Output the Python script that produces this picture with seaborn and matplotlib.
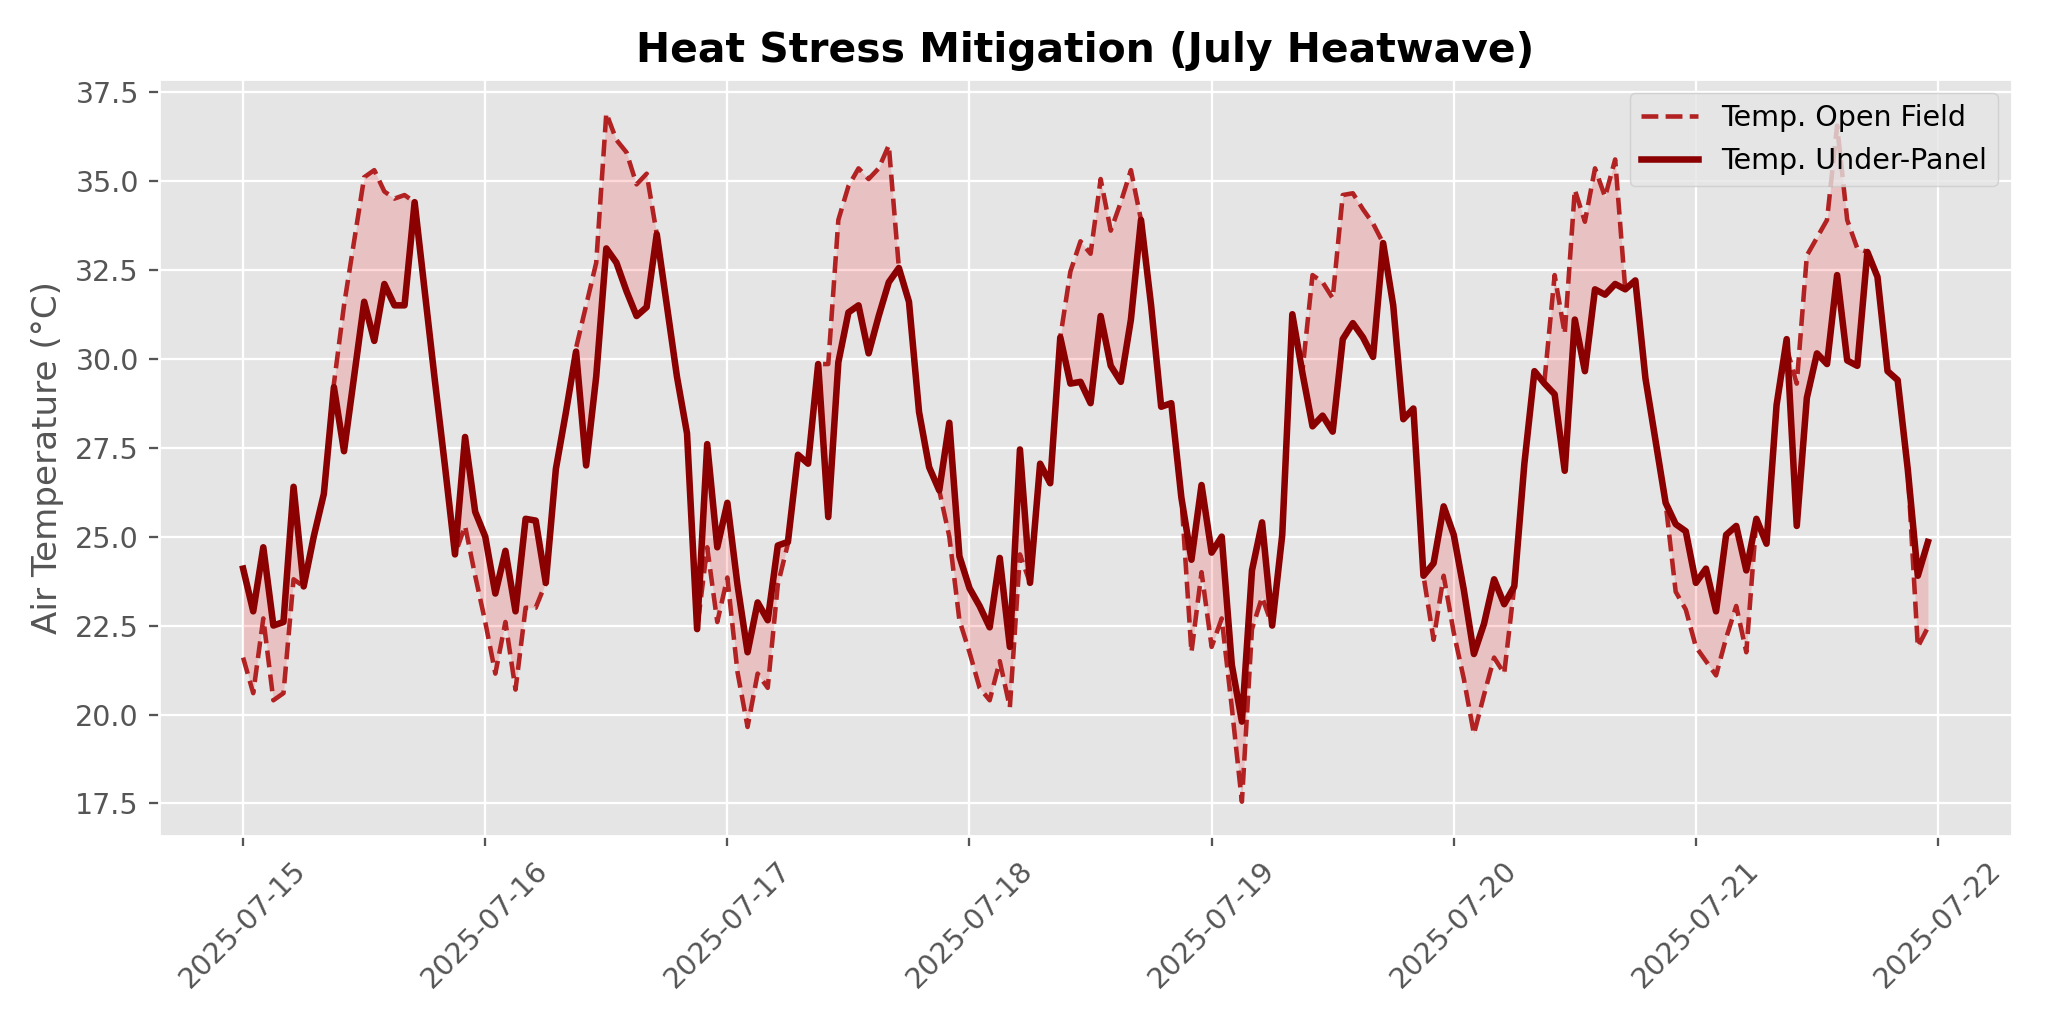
import matplotlib
matplotlib.use("Agg")
import matplotlib.pyplot as plt
import matplotlib.dates as mdates
import numpy as np
import pandas as pd
import seaborn as sns

# Hourly air temperature, 2025-07-15 00:00 .. 2025-07-21 23:00 (one row per day)
start_date = "2025-07-15"
n_hours = 168

temp_open_field = [
    21.6, 20.6, 22.7, 20.4, 20.6, 23.8, 23.6, 25.0, 26.2, 29.3, 31.5, 33.3,
    35.1, 35.3, 34.7, 34.5, 34.6, 34.4, 31.9, 29.4, 27.0, 24.5, 25.3, 23.9,
    22.6, 21.15, 22.6, 20.7, 23.0, 23.0, 23.7, 26.9, 28.5, 30.3, 31.5, 32.7,
    36.9, 36.15, 35.8, 34.9, 35.2, 33.5, 31.5, 29.5, 27.9, 22.4, 24.7, 22.6,
    23.85, 21.2, 19.65, 21.15, 20.75, 23.65, 24.8, 27.3, 27.05, 29.85, 29.85, 33.9,
    34.85, 35.35, 35.05, 35.35, 36.0, 32.55, 31.6, 28.5, 26.95, 26.3, 25.0, 22.65,
    21.75, 20.75, 20.4, 21.5, 20.2, 24.5, 23.7, 27.05, 26.5, 30.6, 32.45, 33.3,
    32.95, 35.05, 33.6, 34.4, 35.3, 33.9, 31.5, 28.65, 28.75, 26.1, 21.75, 24.0,
    21.9, 22.7, 20.2, 17.55, 22.4, 23.3, 22.5, 25.05, 31.25, 29.65, 32.35, 32.15,
    31.7, 34.6, 34.65, 34.2, 33.8, 33.25, 31.5, 28.3, 28.6, 23.9, 22.1, 23.9,
    22.3, 21.0, 19.45, 20.55, 21.6, 21.15, 23.6, 27.05, 29.65, 29.4, 32.35, 30.7,
    34.75, 33.85, 35.35, 34.55, 35.6, 31.95, 32.2, 29.45, 27.7, 25.95, 23.45, 22.95,
    21.9, 21.5, 21.1, 22.15, 23.05, 21.75, 25.5, 24.8, 28.7, 30.3, 29.3, 32.9,
    33.4, 33.9, 36.55, 33.9, 33.1, 33.0, 32.3, 29.65, 29.4, 26.9, 21.9, 22.45,
]

temp_under_panel = [
    24.1, 22.9, 24.7, 22.5, 22.6, 26.4, 23.6, 25.0, 26.2, 29.2, 27.4, 29.5,
    31.6, 30.5, 32.1, 31.5, 31.5, 34.4, 31.9, 29.4, 27.0, 24.5, 27.8, 25.7,
    25.0, 23.4, 24.6, 22.9, 25.5, 25.45, 23.7, 26.9, 28.5, 30.2, 27.0, 29.5,
    33.1, 32.7, 31.9, 31.2, 31.45, 33.5, 31.5, 29.5, 27.9, 22.4, 27.6, 24.7,
    25.95, 23.65, 21.75, 23.15, 22.65, 24.75, 24.85, 27.3, 27.05, 29.85, 25.55, 29.9,
    31.3, 31.5, 30.15, 31.2, 32.15, 32.55, 31.6, 28.5, 26.95, 26.3, 28.2, 24.45,
    23.55, 23.05, 22.45, 24.4, 21.9, 27.45, 23.7, 27.05, 26.5, 30.6, 29.3, 29.35,
    28.75, 31.2, 29.8, 29.35, 31.1, 33.9, 31.5, 28.65, 28.75, 26.1, 24.35, 26.45,
    24.55, 25.0, 21.4, 19.8, 24.05, 25.4, 22.5, 25.05, 31.25, 29.6, 28.1, 28.4,
    27.95, 30.55, 31.0, 30.6, 30.05, 33.25, 31.5, 28.3, 28.6, 23.9, 24.25, 25.85,
    25.05, 23.5, 21.7, 22.55, 23.8, 23.1, 23.6, 27.05, 29.65, 29.3, 29.0, 26.85,
    31.1, 29.65, 31.95, 31.8, 32.1, 31.95, 32.2, 29.45, 27.7, 25.95, 25.35, 25.15,
    23.7, 24.1, 22.9, 25.05, 25.3, 24.05, 25.5, 24.8, 28.7, 30.55, 25.3, 28.9,
    30.15, 29.85, 32.35, 29.95, 29.8, 33.0, 32.3, 29.65, 29.4, 26.9, 23.9, 24.85,
]

df = pd.DataFrame({
    "time": pd.date_range(start_date, periods=n_hours, freq="h"),
    "open": temp_open_field,
    "under": temp_under_panel,
})

plt.style.use("ggplot")
fig, ax = plt.subplots(figsize=(10, 5), dpi=204.8)

# open field first so the under-panel line sits on top
sns.lineplot(data=df, x="time", y="open", ax=ax, color="firebrick",
             linestyle="--", linewidth=1.6, label="Temp. Open Field")
sns.lineplot(data=df, x="time", y="under", ax=ax, color="darkred",
             linewidth=2.3, label="Temp. Under-Panel")
ax.fill_between(df["time"], df["open"], df["under"], color="red",
                alpha=0.15, linewidth=0)

ax.xaxis.set_major_locator(mdates.DayLocator())
ax.xaxis.set_major_formatter(mdates.DateFormatter("%Y-%m-%d"))
ax.tick_params(axis="x", rotation=45)

ax.set_title("Heat Stress Mitigation (July Heatwave)", fontweight="bold")
ax.set_xlabel("")
ax.set_ylabel("Air Temperature (°C)")
ax.legend(loc="upper right")

fig.tight_layout()
fig.savefig("out.png", dpi=204.8)
